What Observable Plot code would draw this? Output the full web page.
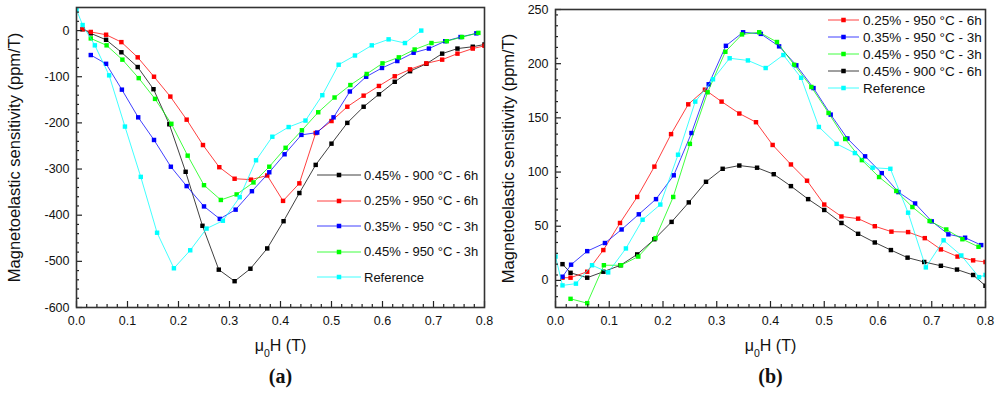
<!DOCTYPE html>
<html>
<head>
<meta charset="utf-8">
<script src="https://cdn.jsdelivr.net/npm/d3@7"></script>
<script src="https://cdn.jsdelivr.net/npm/@observablehq/plot@0.6"></script>
<style>
  body { margin: 0; background: #fff; }
  #fig { position: relative; width: 1000px; height: 401px; display: flex; font-family: "Liberation Sans", Arial, sans-serif; }
  .legend { position: absolute; color: #111; }
  .legend .row { position: absolute; left: 0; display: flex; align-items: center; white-space: nowrap; height: 16px; }
</style>
</head>
<body>
<div id="fig"></div>
<script>
// ---------- series ----------
const seriesNames = ["0.45% - 900 °C - 6h", "0.25% - 950 °C - 6h", "0.35% - 950 °C - 3h", "0.45% - 950 °C - 3h", "Reference"];
const seriesColors = ["#000000", "#ff0000", "#0000ff", "#00ff00", "#00ffff"];

// ---------- panel (a) ----------
const aBlackX = [0.012, 0.028, 0.058, 0.088, 0.12, 0.151, 0.182, 0.214, 0.247, 0.279, 0.31, 0.341, 0.374, 0.406, 0.437, 0.469, 0.5, 0.531, 0.563, 0.593, 0.624, 0.654, 0.686, 0.717, 0.747, 0.777, 0.8];
const aBlackY = [3, -6, -20, -47, -79, -127, -203, -306, -423, -518, -543, -516, -472, -413, -352, -291, -245, -200, -165, -138, -111, -88, -72, -50, -39, -35, -30];
const aRedX = [0.012, 0.028, 0.058, 0.088, 0.12, 0.152, 0.184, 0.216, 0.248, 0.28, 0.31, 0.342, 0.374, 0.405, 0.437, 0.469, 0.5, 0.531, 0.563, 0.593, 0.624, 0.654, 0.686, 0.717, 0.747, 0.777, 0.8];
const aRedY = [3, -3, -9, -25, -58, -100, -143, -193, -248, -296, -321, -323, -314, -369, -331, -222, -196, -165, -141, -120, -99, -84, -71, -63, -50, -39, -33];
const aBlueX = [0.028, 0.058, 0.089, 0.121, 0.152, 0.185, 0.216, 0.25, 0.281, 0.312, 0.344, 0.378, 0.408, 0.441, 0.472, 0.504, 0.536, 0.568, 0.599, 0.629, 0.661, 0.691, 0.723, 0.753, 0.784];
const aBlueY = [-53, -72, -128, -188, -237, -295, -337, -381, -408, -388, -348, -307, -268, -226, -221, -188, -132, -100, -81, -66, -48, -39, -23, -14, -6];
const aGreenX = [0.028, 0.059, 0.09, 0.122, 0.154, 0.186, 0.218, 0.25, 0.283, 0.314, 0.347, 0.378, 0.41, 0.442, 0.474, 0.506, 0.537, 0.569, 0.6, 0.632, 0.663, 0.696, 0.726, 0.756, 0.788];
const aGreenY = [-17, -32, -63, -103, -148, -202, -271, -335, -367, -355, -329, -295, -254, -216, -177, -145, -118, -94, -71, -58, -41, -27, -23, -14, -5];
const aCyanX = [0, 0.012, 0.036, 0.064, 0.095, 0.126, 0.158, 0.191, 0.223, 0.255, 0.287, 0.32, 0.352, 0.384, 0.416, 0.449, 0.482, 0.514, 0.546, 0.579, 0.612, 0.644, 0.676];
const aCyanY = [45, 12, -32, -97, -208, -317, -438, -515, -476, -429, -412, -361, -281, -230, -209, -195, -140, -74, -54, -32, -19, -27, 0];

// ---------- panel (b) ----------
const bBlackX = [0.013, 0.028, 0.059, 0.089, 0.121, 0.152, 0.184, 0.216, 0.248, 0.28, 0.311, 0.342, 0.375, 0.406, 0.438, 0.47, 0.5, 0.532, 0.563, 0.594, 0.624, 0.655, 0.686, 0.717, 0.747, 0.777, 0.8];
const bBlackY = [15, 7, 2.5, 8, 14, 24, 38, 54, 72, 91, 103, 106, 104, 98, 87, 75, 65, 53, 43, 35, 28, 21, 17, 13.5, 10, 5, -5];
const bRedX = [0.013, 0.028, 0.059, 0.089, 0.12, 0.152, 0.184, 0.215, 0.247, 0.278, 0.309, 0.342, 0.373, 0.404, 0.438, 0.468, 0.5, 0.532, 0.563, 0.594, 0.625, 0.656, 0.687, 0.717, 0.748, 0.777, 0.8];
const bRedY = [2.5, 2.5, 8, 28, 53, 77, 105, 135, 162.5, 176, 165, 154, 146, 125, 107, 92, 70, 59, 57, 50, 45, 44.6, 39, 28.6, 22, 18.5, 17];
const bBlueX = [0.013, 0.029, 0.059, 0.092, 0.123, 0.155, 0.187, 0.22, 0.253, 0.285, 0.317, 0.349, 0.382, 0.416, 0.448, 0.48, 0.512, 0.543, 0.576, 0.607, 0.638, 0.669, 0.7, 0.731, 0.762, 0.792];
const bBlueY = [3.4, 14.5, 27, 34.5, 47, 61, 75, 97, 136, 181, 216.5, 229, 227.5, 216, 198.5, 177.5, 153, 131, 114.5, 99, 81.5, 71, 54.5, 42.5, 39.4, 32.6];
const bGreenX = [0.028, 0.059, 0.09, 0.122, 0.154, 0.186, 0.219, 0.25, 0.283, 0.316, 0.347, 0.379, 0.412, 0.444, 0.476, 0.508, 0.539, 0.57, 0.602, 0.634, 0.664, 0.696, 0.727, 0.757, 0.787];
const bGreenY = [-17, -21, 14, 14, 22, 39, 77, 126, 173.6, 211, 227, 229, 220, 199, 178.5, 154.5, 130.5, 111, 95.4, 82.5, 67.7, 54.8, 47, 38, 31];
const bCyanX = [0, 0.013, 0.038, 0.068, 0.098, 0.131, 0.162, 0.195, 0.228, 0.26, 0.293, 0.324, 0.358, 0.391, 0.424, 0.457, 0.49, 0.523, 0.557, 0.59, 0.623, 0.656, 0.689, 0.722, 0.755, 0.788, 0.8];
const bCyanY = [22, -4.6, -3, 14, 7.4, 29.5, 56, 70, 116, 165, 185.6, 205, 203, 196, 208, 187, 141.6, 126, 117.5, 104, 103, 62.5, 12, 37, 23, 3, 5];

// ---------- axes ----------
const xTicks = [0, 0.1, 0.2, 0.3, 0.4, 0.5, 0.6, 0.7, 0.8];
const aYTicks = [0, -100, -200, -300, -400, -500, -600];
const bYTicks = [0, 50, 100, 150, 200, 250];
const xTitle = "μ0H (T)";
const yTitle = "Magnetoelastic sensitivity (ppm/T)";

const toRows = (xs, ys, s) => xs.map((x, i) => ({x, y: ys[i], s}));
const colourFor = s => seriesColors[seriesNames.indexOf(s)];

function panel(series, opts) {
  const xMinor = d3.range(0, 0.8001, 0.02).filter(v => Math.abs(v * 10 - Math.round(v * 10)) > 1e-6);
  const yMinor = d3.range(opts.yDomain[0], opts.yDomain[1] + 1e-6, opts.yMinorStep)
    .filter(v => v % opts.yMajorStep !== 0 && v > opts.yDomain[0]);
  const seriesMarks = series.flatMap(rows => {
    const c = colourFor(rows[0].s);
    return [
      Plot.line(rows, {x: "x", y: "y", stroke: c, strokeWidth: 1, strokeOpacity: 0.75, clip: true}),
      Plot.dot(rows, {x: "x", y: "y", fill: c, symbol: "square", r: 2.5, clip: true})
    ];
  });
  const svg = Plot.plot({
    width: 500, height: 401,
    marginLeft: opts.marginLeft, marginRight: opts.marginRight, marginTop: opts.marginTop, marginBottom: 94,
    style: {fontFamily: "'Liberation Sans', Arial, sans-serif", fontSize: "12.5px", color: "#222", background: "white", overflow: "visible"},
    x: {domain: [0, 0.8]},
    y: {domain: opts.yDomain},
    marks: [
      ...seriesMarks,
      // inward ticks
      Plot.axisX(xMinor, {anchor: "bottom", tickSize: 3, dy: -3, fill: "none", label: null, strokeWidth: 1.2}),
      Plot.axisX(xTicks, {anchor: "bottom", tickSize: 6, dy: -6, fill: "none", label: null, strokeWidth: 1.2}),
      Plot.axisY(yMinor, {anchor: "left", tickSize: 3, dx: 3, fill: "none", label: null, strokeWidth: 1.2}),
      Plot.axisY(opts.yTicks, {anchor: "left", tickSize: 6, dx: 6, fill: "none", label: null, strokeWidth: 1.2}),
      // tick labels
      Plot.axisX(xTicks, {anchor: "bottom", tickSize: 0, tickPadding: 9, tickFormat: d3.format(".1f"), label: null, fill: "#111"}),
      Plot.axisY(opts.yTicks, {anchor: "left", tickSize: 0, tickPadding: 7, tickFormat: d => String(d), label: null, fill: "#111"}),
      Plot.frame({stroke: "#333", strokeWidth: 1.6}),
      // titles
      Plot.text([xTitle], {frameAnchor: "bottom", dy: 43, fontSize: 16, fill: "#111"}),
      Plot.text([opts.tag], {frameAnchor: "bottom", dy: 75, fontSize: 20, fontWeight: "bold", fontFamily: "'Liberation Serif', 'Times New Roman', serif", fill: "#111"}),
      Plot.text([yTitle], {frameAnchor: "left", textAnchor: "middle", dx: opts.yTitleDx, rotate: -90, fontSize: 16.5, fill: "#111"})
    ]
  });
  // subscript 0 in μ0H
  d3.select(svg).selectAll("text").filter(function () { return this.textContent === xTitle; })
    .html('μ<tspan baseline-shift="sub" font-size="10.5">0</tspan>H (T)');
  return svg;
}

const fig = document.getElementById("fig");

fig.appendChild(panel([
  toRows(aBlackX, aBlackY, seriesNames[0]),
  toRows(aRedX, aRedY, seriesNames[1]),
  toRows(aBlueX, aBlueY, seriesNames[2]),
  toRows(aGreenX, aGreenY, seriesNames[3]),
  toRows(aCyanX, aCyanY, seriesNames[4])
], {yDomain: [-600, 50], yTicks: aYTicks, yMinorStep: 20, yMajorStep: 100,
    marginLeft: 76, marginRight: 16, marginTop: 7, yTitleDx: -62, tag: "(a)"}));

fig.appendChild(panel([
  toRows(bBlackX, bBlackY, seriesNames[0]),
  toRows(bRedX, bRedY, seriesNames[1]),
  toRows(bBlueX, bBlueY, seriesNames[2]),
  toRows(bGreenX, bGreenY, seriesNames[3]),
  toRows(bCyanX, bCyanY, seriesNames[4])
], {yDomain: [-25, 250], yTicks: bYTicks, yMinorStep: 10, yMajorStep: 50,
    marginLeft: 55, marginRight: 15, marginTop: 9, yTitleDx: -47, tag: "(b)"}));

// ---------- legends (HTML overlays) ----------
function legend({left, top, step, order, lineW, gap, fontSize}) {
  const box = document.createElement("div");
  box.className = "legend";
  box.style.left = left + "px";
  box.style.top = top + "px";
  box.style.fontSize = fontSize + "px";
  order.forEach((i, k) => {
    const row = document.createElement("div");
    row.className = "row";
    row.style.top = (k * step - 8) + "px";
    const c = seriesColors[i];
    row.innerHTML =
      `<svg width="${lineW}" height="10" style="flex:none">` +
      `<line x1="0" x2="${lineW}" y1="5" y2="5" stroke="${c}" stroke-width="1" stroke-opacity="0.75"/>` +
      `<rect x="${lineW / 2 - 2.25}" y="2.75" width="4.5" height="4.5" fill="${c}"/></svg>` +
      `<span style="margin-left:${gap}px">${seriesNames[i]}</span>`;
    box.appendChild(row);
  });
  fig.appendChild(box);
}
legend({left: 317, top: 175, step: 25.6, order: [0, 1, 2, 3, 4], lineW: 44, gap: 3, fontSize: 13});
legend({left: 828, top: 20, step: 17.1, order: [1, 2, 3, 0, 4], lineW: 31, gap: 4, fontSize: 13.5});
</script>
</body>
</html>
